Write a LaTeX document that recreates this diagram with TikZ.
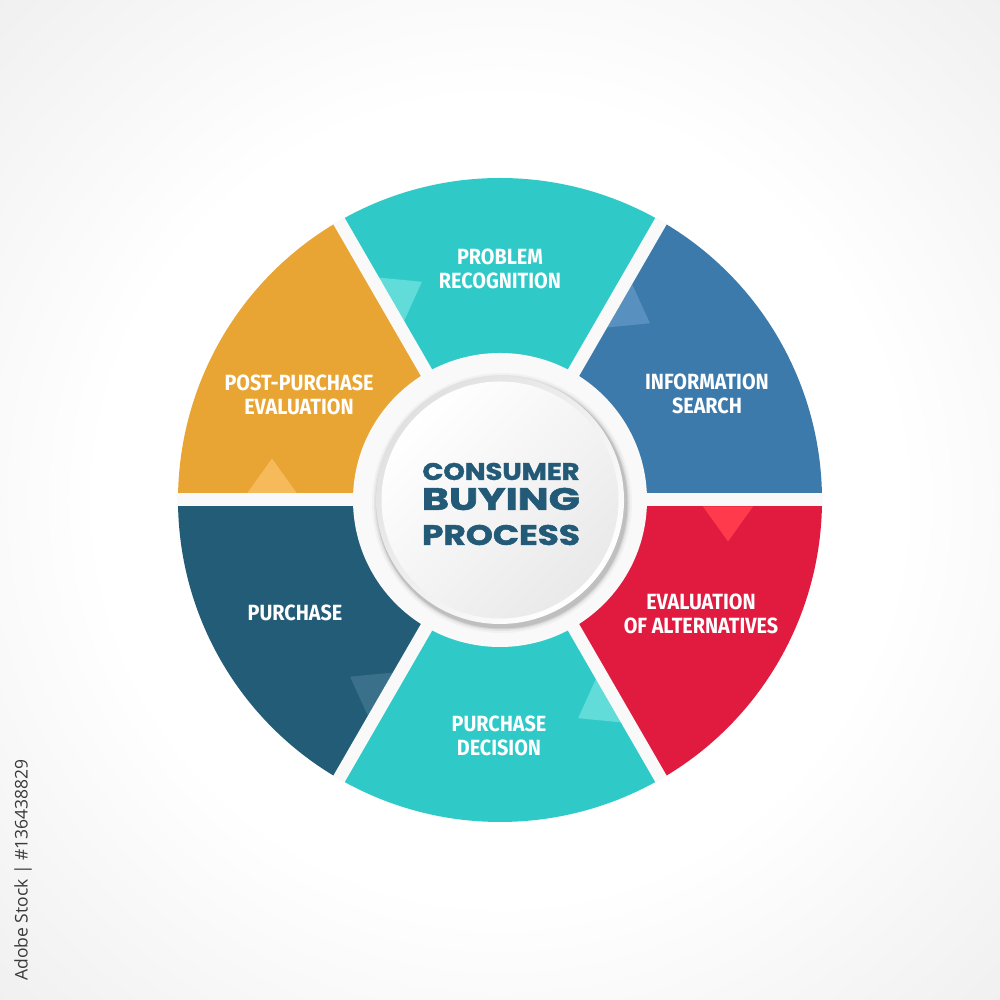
\documentclass[tikz,border=0pt]{standalone}
\usepackage{fontspec}
\usepackage{graphicx}
\setmainfont{Fira Sans}
\newfontfamily\labfont[FakeStretch=0.9]{Fira Sans}
\newfontfamily\centerfont[BoldFeatures={FakeBold=1.6}]{Poppins}
\newfontfamily\sidefont{Open Sans}
\definecolor{bgouter}{RGB}{226,226,226}
\definecolor{cyanseg}{HTML}{2FCAC7}
\definecolor{blueseg}{HTML}{3B7AAB}
\definecolor{redseg}{HTML}{E11B40}
\definecolor{tealseg}{HTML}{235C77}
\definecolor{orangeseg}{HTML}{E8A534}
\definecolor{cyantri}{HTML}{62DCD9}
\definecolor{bluetri}{HTML}{5890BF}
\definecolor{redtri}{HTML}{FF3A4C}
\definecolor{tealtri}{HTML}{3A7089}
\definecolor{orangetri}{HTML}{F6BA5B}
\definecolor{centertext}{HTML}{235A78}
\definecolor{gapc}{HTML}{F9F9F9}
\definecolor{sidegray}{HTML}{3A3A3A}
\pgfdeclareradialshading{bgshade}{\pgfpoint{0bp}{0bp}}{color(0bp)=(white); color(20bp)=(white); color(50bp)=(bgouter)}
\begin{document}
\begin{tikzpicture}[x=1pt,y=1pt,
  seglabel/.style={text=white, font=\labfont\bfseries\fontsize{22}{24.5}\selectfont, align=center, inner sep=0pt},
  ctext/.style={text=centertext, font=\centerfont\bfseries, inner sep=0pt},
  gapline/.style={draw=gapc, line width=13pt}]
\useasboundingbox (0,0) rectangle (1000,1000);
\shade[shading=bgshade] (0,0) rectangle (1000,1000);
\begin{scope}[shift={(500,500)}]
  % segments
  \foreach \a/\b/\c in {60/120/cyanseg, 0/60/blueseg, -60/0/redseg, -120/-60/cyanseg, -180/-120/tealseg, 120/180/orangeseg}
    \fill[\c] (\a:140) -- (\a:322) arc[start angle=\a, end angle=\b, radius=322] -- (\b:140) -- cycle;
  % direction triangles
  \foreach \t/\c in {120/cyantri, 60/bluetri, 0/redtri, -60/cyantri, -120/tealtri, 180/orangetri}
    \fill[\c, rotate=\t] (203,-6.5) -- (253,-6.5) -- (228,-41.5) -- cycle;
  % gaps
  \foreach \t in {0,60,...,300}
    \draw[gapline] (0,0) -- (\t:322.6);
  \fill[gapc] (0,0) circle (147);
  % centre disc with shadow
  \foreach \r/\o in {130/0.03, 128/0.05, 126.5/0.07, 125.5/0.09}
    \fill[black, opacity=\o] (2,-3) circle (\r);
  \shade[top color=gray!24, bottom color=white, shading angle=45] (0,0) circle (124);
  \shade[top color=white, bottom color=gray!17, shading angle=45] (0,0) circle (118.5);
  % centre title
  \node[ctext] (consumer) at (1,28.5) {\resizebox{157pt}{17pt}{CONSUMER}};
  \node[ctext] (buying) at (1,1) {\resizebox{158pt}{22pt}{BUYING}};
  \node[ctext] (process) at (1,-35) {\resizebox{158pt}{20pt}{PROCESS}};
\end{scope}
% segment labels
\node[seglabel] (problem) at (500,731) {PROBLEM\\RECOGNITION};
\node[seglabel] (info) at (707,606) {INFORMATION\\SEARCH};
\node[seglabel] (evalalt) at (701,386) {EVALUATION\\OF ALTERNATIVES};
\node[seglabel] (decision) at (499,264) {PURCHASE\\DECISION};
\node[seglabel] (purchase) at (295,387) {PURCHASE};
\node[seglabel] (post) at (299,605) {POST-PURCHASE\\EVALUATION};
% side credit
\node[rotate=90, text=sidegray, font=\sidefont\fontsize{17.5}{20}\selectfont, inner sep=0pt] (side) at (23,130) {Adobe Stock | \#136438829};
\end{tikzpicture}
\end{document}
